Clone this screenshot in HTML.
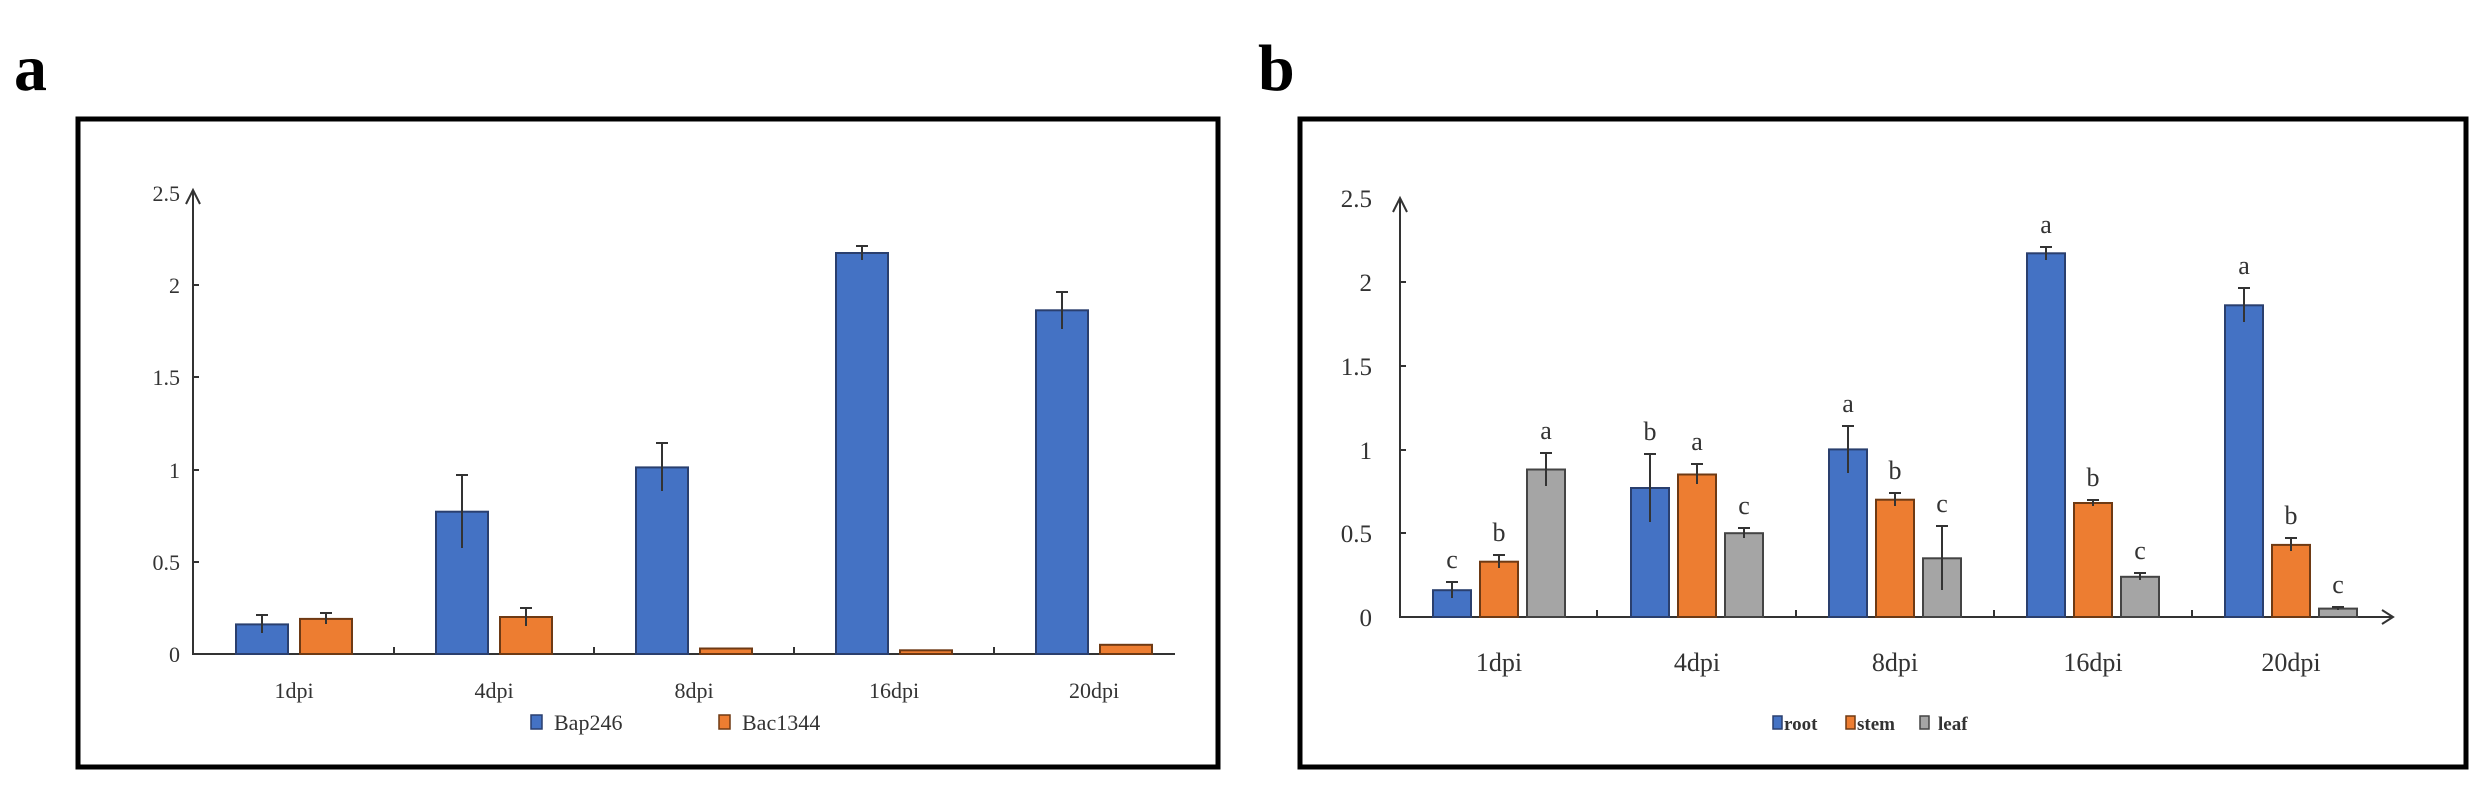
<!DOCTYPE html>
<html><head><meta charset="utf-8"><style>
html,body{margin:0;padding:0;background:#fff}
svg{display:block}
text{font-family:"Liberation Serif",serif;fill:#333}
</style></head><body>
<svg width="2488" height="789" viewBox="0 0 2488 789" xmlns="http://www.w3.org/2000/svg">
<text x="14" y="90" style="font-size:66px;font-weight:bold;fill:#000">a</text>
<text x="1258" y="90" style="font-size:66px;font-weight:bold;fill:#000">b</text>
<rect x="78" y="119" width="1140" height="648" fill="none" stroke="#000" stroke-width="5"/>
<rect x="1300" y="119" width="1166" height="648" fill="none" stroke="#000" stroke-width="5"/>

<!-- Panel a -->
<g stroke="#333" stroke-width="2" fill="none">
<line x1="193" y1="192" x2="193" y2="655"/>
<path d="M186 204 L193 190 L200 204"/>
<line x1="193" y1="654" x2="1175" y2="654"/>
<line x1="394" y1="654" x2="394" y2="647"/><line x1="594" y1="654" x2="594" y2="647"/><line x1="794" y1="654" x2="794" y2="647"/><line x1="994" y1="654" x2="994" y2="647"/>
<line x1="193" y1="285" x2="199" y2="285"/><line x1="193" y1="377" x2="199" y2="377"/><line x1="193" y1="470" x2="199" y2="470"/><line x1="193" y1="562" x2="199" y2="562"/>
</g>
<g style="font-size:22px" text-anchor="end">
<text x="180" y="201">2.5</text><text x="180" y="293">2</text><text x="180" y="385">1.5</text><text x="180" y="478">1</text><text x="180" y="570">0.5</text><text x="180" y="662">0</text>
</g>
<g fill="#4472C4" stroke="#2a3f6e" stroke-width="2">
<rect x="236" y="624.4" width="52" height="29.6"/>
<rect x="436" y="511.7" width="52" height="142.3"/>
<rect x="636" y="467.4" width="52" height="186.6"/>
<rect x="836" y="253" width="52" height="401"/>
<rect x="1036" y="310.3" width="52" height="343.7"/>
</g>
<g fill="#ED7D31" stroke="#6e3a14" stroke-width="2">
<rect x="300" y="618.9" width="52" height="35.1"/>
<rect x="500" y="617" width="52" height="37"/>
<rect x="700" y="648.5" width="52" height="5.5"/>
<rect x="900" y="650.3" width="52" height="3.7"/>
<rect x="1100" y="644.8" width="52" height="9.2"/>
</g>
<g stroke="#333" stroke-width="2" fill="none">
<path d="M262 615 V633 M256 615 H268"/>
<path d="M462 475 V548 M456 475 H468"/>
<path d="M662 443 V491 M656 443 H668"/>
<path d="M862 246 V260 M856 246 H868"/>
<path d="M1062 292 V329 M1056 292 H1068"/>
<path d="M326 613 V624 M320 613 H332"/>
<path d="M526 608 V626 M520 608 H532"/>
</g>
<g style="font-size:22px" text-anchor="middle">
<text x="294" y="698">1dpi</text><text x="494" y="698">4dpi</text><text x="694" y="698">8dpi</text><text x="894" y="698">16dpi</text><text x="1094" y="698">20dpi</text>
</g>
<rect x="531" y="715" width="11" height="14" fill="#4472C4" stroke="#2a3f6e" stroke-width="1.5"/>
<text x="554" y="730" style="font-size:22px">Bap246</text>
<rect x="719" y="715" width="11" height="14" fill="#ED7D31" stroke="#6e3a14" stroke-width="1.5"/>
<text x="742" y="730" style="font-size:22px">Bac1344</text>

<!-- Panel b -->
<g stroke="#333" stroke-width="2" fill="none">
<line x1="1400" y1="199" x2="1400" y2="618"/>
<path d="M1393 212 L1400 198 L1407 212"/>
<line x1="1400" y1="617" x2="2392" y2="617"/>
<path d="M2382 610 L2393 617 L2382 624"/>
<line x1="1597" y1="617" x2="1597" y2="610"/><line x1="1796" y1="617" x2="1796" y2="610"/><line x1="1994" y1="617" x2="1994" y2="610"/><line x1="2192" y1="617" x2="2192" y2="610"/>
<line x1="1400" y1="282" x2="1406" y2="282"/><line x1="1400" y1="366" x2="1406" y2="366"/><line x1="1400" y1="450" x2="1406" y2="450"/><line x1="1400" y1="533" x2="1406" y2="533"/>
</g>
<g style="font-size:25px" text-anchor="end">
<text x="1372" y="207">2.5</text><text x="1372" y="291">2</text><text x="1372" y="375">1.5</text><text x="1372" y="459">1</text><text x="1372" y="542">0.5</text><text x="1372" y="626">0</text>
</g>
<g fill="#4472C4" stroke="#2a3f6e" stroke-width="2">
<rect x="1433" y="590.2" width="38" height="26.8"/>
<rect x="1631" y="488" width="38" height="129"/>
<rect x="1829" y="449.4" width="38" height="167.6"/>
<rect x="2027" y="253.3" width="38" height="363.7"/>
<rect x="2225" y="305.3" width="38" height="311.7"/>
</g>
<g fill="#ED7D31" stroke="#6e3a14" stroke-width="2">
<rect x="1480" y="561.7" width="38" height="55.3"/>
<rect x="1678" y="474.5" width="38" height="142.5"/>
<rect x="1876" y="499.7" width="38" height="117.3"/>
<rect x="2074" y="503" width="38" height="114"/>
<rect x="2272" y="544.9" width="38" height="72.1"/>
</g>
<g fill="#A5A5A5" stroke="#444" stroke-width="2">
<rect x="1527" y="469.5" width="38" height="147.5"/>
<rect x="1725" y="533.2" width="38" height="83.8"/>
<rect x="1923" y="558.3" width="38" height="58.7"/>
<rect x="2121" y="576.8" width="38" height="40.2"/>
<rect x="2319" y="608.6" width="38" height="8.4"/>
</g>
<g stroke="#333" stroke-width="2" fill="none">
<path d="M1452 582 V598 M1446 582 H1458"/>
<path d="M1650 454 V522 M1644 454 H1656"/>
<path d="M1848 426 V473 M1842 426 H1854"/>
<path d="M2046 247 V260 M2040 247 H2052"/>
<path d="M2244 288 V322 M2238 288 H2250"/>
<path d="M1499 555 V568 M1493 555 H1505"/>
<path d="M1697 464 V484 M1691 464 H1703"/>
<path d="M1895 493 V506 M1889 493 H1901"/>
<path d="M2093 500 V506 M2087 500 H2099"/>
<path d="M2291 538 V551 M2285 538 H2297"/>
<path d="M1546 453 V486 M1540 453 H1552"/>
<path d="M1744 528 V538 M1738 528 H1750"/>
<path d="M1942 526 V590 M1936 526 H1948"/>
<path d="M2140 573 V580 M2134 573 H2146"/>
<path d="M2338 607 V610 M2332 607 H2344"/>
</g>
<g style="font-size:26px" text-anchor="middle">
<text x="1452" y="568">c</text><text x="1650" y="440">b</text><text x="1848" y="412">a</text><text x="2046" y="233">a</text><text x="2244" y="274">a</text>
<text x="1499" y="541">b</text><text x="1697" y="450">a</text><text x="1895" y="479">b</text><text x="2093" y="486">b</text><text x="2291" y="524">b</text>
<text x="1546" y="439">a</text><text x="1744" y="514">c</text><text x="1942" y="512">c</text><text x="2140" y="559">c</text><text x="2338" y="593">c</text>
</g>
<g style="font-size:26px" text-anchor="middle">
<text x="1499" y="671">1dpi</text><text x="1697" y="671">4dpi</text><text x="1895" y="671">8dpi</text><text x="2093" y="671">16dpi</text><text x="2291" y="671">20dpi</text>
</g>
<rect x="1773" y="716" width="9" height="13" fill="#4472C4" stroke="#2a3f6e" stroke-width="1.5"/>
<text x="1784" y="730" style="font-size:19px;font-weight:bold">root</text>
<rect x="1846" y="716" width="9" height="13" fill="#ED7D31" stroke="#6e3a14" stroke-width="1.5"/>
<text x="1857" y="730" style="font-size:19px;font-weight:bold">stem</text>
<rect x="1920" y="716" width="9" height="13" fill="#A5A5A5" stroke="#444" stroke-width="1.5"/>
<text x="1938" y="730" style="font-size:19px;font-weight:bold">leaf</text>
</svg>
</body></html>
